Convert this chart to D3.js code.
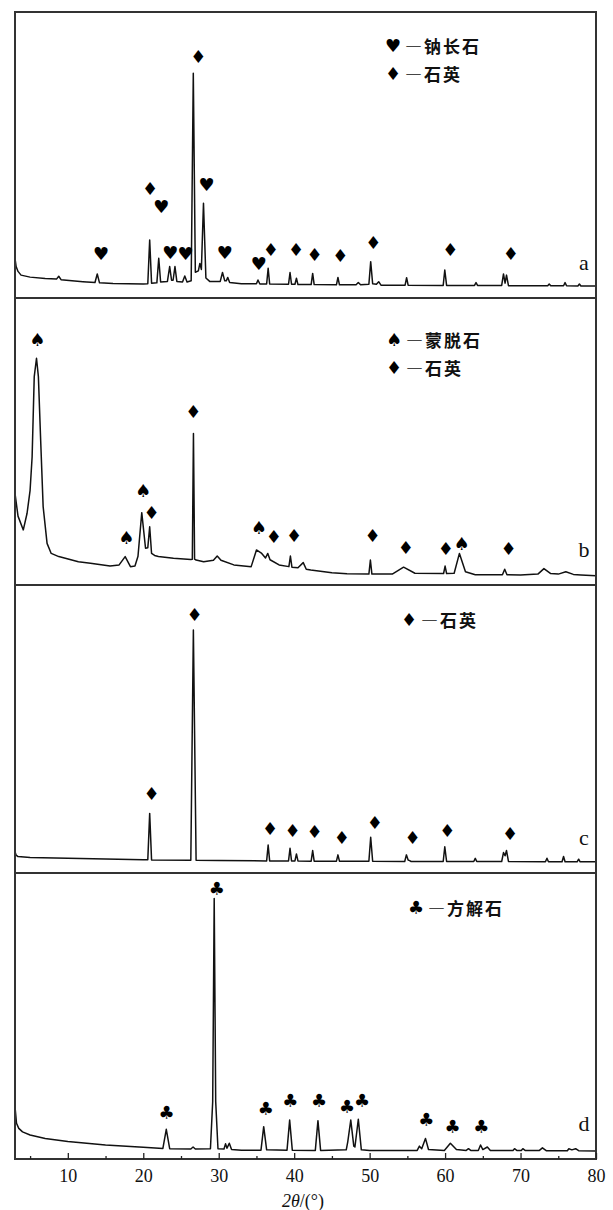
<!DOCTYPE html>
<html lang="zh">
<head>
<meta charset="utf-8">
<title>XRD</title>
<script src="https://d3js.org/d3.v7.min.js"></script>
<style>
  body { margin: 0; background: #fff; }
  .axis text { font-family: "Liberation Serif", serif; font-size: 18px; fill: #111; }
  .axis line { stroke: #222; stroke-width: 1.3; }
  .mark { font-family: "DejaVu Sans", sans-serif; font-size: 18px; fill: #000; }
  .leg { font-family: "Noto Sans CJK SC", sans-serif; font-size: 17px; font-weight: 700; fill: #111; letter-spacing: 2px; }
  .tag { font-family: "Liberation Serif", serif; font-size: 22px; fill: #111; }
</style>
</head>
<body>
<script>
// 2theta range and ticks
var xDomain = [3, 80];
var majorTicks = [10, 20, 30, 40, 50, 60, 70, 80];
var minorTicks = [5, 15, 25, 35, 45, 55, 65, 75];

// traces: [2theta, relative intensity 0-100 of panel height]
var traceA = [[3.0,13.9],[3.15,11],[3.4,9.3],[3.8,8.0],[5,7.3],[7,6.8],[8.5,6.6],[8.8,7.6],[9.1,6.4],[12,5.7],[13.6,5.4],[13.9,8.4],[14.2,5.3],[16,5.1],[20.0,4.9],[20.6,5.0],[20.85,20.3],[21.1,5.2],[21.8,5.3],[22.05,13.9],[22.3,5.6],[23.2,5.8],[23.5,11.0],[23.75,6.2],[23.95,6.2],[24.2,11.0],[24.45,5.8],[25.2,5.6],[25.5,7.7],[25.8,5.6],[26.35,6],[26.63,78.6],[26.9,9],[27.3,9.5],[27.5,12.1],[27.7,10],[27.98,33.1],[28.3,7],[28.8,5.8],[30.2,5.8],[30.5,8.9],[30.8,6],[31.0,6],[31.2,7.2],[31.45,5.4],[33,5],[35.0,5],[35.2,6.3],[35.45,4.9],[36.35,4.9],[36.55,10.4],[36.75,4.9],[39.25,4.8],[39.45,8.9],[39.65,4.8],[40.1,4.8],[40.3,6.9],[40.5,4.7],[42.25,4.7],[42.45,8.6],[42.65,4.7],[45.6,4.6],[45.8,7.2],[46.0,4.6],[48.2,4.6],[48.5,5.4],[48.8,4.6],[49.9,4.8],[50.14,12.7],[50.4,5],[50.9,4.8],[51.2,5.7],[51.5,4.5],[54.7,4.5],[54.9,7.1],[55.1,4.5],[59.75,4.4],[59.96,9.8],[60.2,4.4],[63.9,4.4],[64.1,5.4],[64.3,4.4],[67.5,4.4],[67.74,8.4],[67.95,5.2],[68.14,8.0],[68.4,4.3],[73.6,4.3],[73.8,4.9],[74,4.3],[75.7,4.3],[75.9,5.4],[76.1,4.3],[77.6,4.2],[77.8,4.9],[78.0,4.2],[80,4.2]];

var traceB = [[3.0,31.9],[3.4,24],[4.1,19.2],[4.6,25],[5.0,33],[5.27,44.7],[5.55,72.6],[5.85,79.0],[6.1,72.6],[6.4,50.5],[6.73,27.3],[7.25,14.5],[7.8,11.0],[8.8,9.9],[11.4,8.1],[13,7.6],[15.6,6.6],[16.8,7.0],[17.6,9.9],[18.3,6.4],[18.9,6.6],[19.3,10],[19.8,25.2],[20.3,12.8],[20.6,13],[20.85,20.3],[21.1,11],[21.5,10.3],[22,9.9],[24,9.3],[26.3,8.9],[26.5,9],[26.65,52.8],[26.8,9],[27.0,8.7],[28,8.1],[29.3,8.6],[29.8,10.1],[30.3,8.6],[32,7.0],[34.3,6.4],[35.0,12.2],[35.7,11.0],[36.2,9.4],[36.5,11.0],[36.8,8.8],[38,7],[39.3,6.4],[39.5,10.1],[39.7,6.2],[40.5,6.0],[41.2,7.8],[41.6,5.5],[42.2,5.2],[45,4.3],[47,3.9],[49.9,3.8],[50.1,8.7],[50.3,3.8],[53,3.8],[54.5,6.2],[56,4.1],[59.8,4.0],[60.0,6.6],[60.2,4.0],[61.2,4.1],[61.9,11.0],[62.7,4.6],[64,3.6],[67.6,3.6],[67.9,5.5],[68.2,3.6],[70,3.5],[72.3,3.8],[73.1,5.7],[74,4],[75,3.8],[76,4.6],[77,3.7],[78,3.5],[80,3.2]];

var traceC = [[3.0,7.4],[3.15,6.2],[3.4,5.7],[5,5.4],[10,5.1],[20,4.6],[20.6,4.6],[20.85,20.7],[21.1,4.5],[26.3,4.4],[26.64,84.4],[27.0,4.4],[30,4.3],[36.35,4.2],[36.55,9.7],[36.75,4.2],[39.25,4.2],[39.45,8.6],[39.65,4.2],[40.1,4.2],[40.3,6.6],[40.5,4.2],[42.25,4.1],[42.45,7.8],[42.65,4.1],[45.6,4.1],[45.8,6.3],[46.0,4.1],[49.9,4.1],[50.14,12.4],[50.4,4.1],[54.65,4.0],[54.87,6.3],[55.1,4.5],[55.3,4.3],[55.5,4.0],[59.75,4.0],[59.96,9.1],[60.2,4.0],[63.8,4.0],[64.0,5.1],[64.2,4.0],[67.5,4.0],[67.74,7.1],[67.95,6.0],[68.14,7.8],[68.4,4.0],[73.3,3.9],[73.5,5.1],[73.7,3.9],[75.5,3.9],[75.7,5.7],[75.9,3.9],[77.5,3.9],[77.7,4.8],[77.9,3.9],[80,3.9]];

var traceD = [[3.0,18.3],[3.2,12.5],[3.5,10.7],[4,9.5],[5,8.4],[7,7.2],[10,6.1],[15,4.9],[20,4.1],[22.6,3.7],[23.05,10.4],[23.5,3.6],[26.3,3.5],[26.6,4.2],[26.9,3.5],[28.9,3.6],[29.2,20],[29.4,91.1],[29.6,20],[29.9,3.6],[30.7,3.5],[30.9,5.3],[31.1,3.8],[31.4,5.5],[31.7,3.3],[33,3.1],[35.6,3.1],[35.96,11.3],[36.35,3.2],[39.05,3.1],[39.4,13.6],[39.75,3.1],[42.8,3.0],[43.15,13.4],[43.5,3.0],[46.9,3.2],[47.1,6],[47.5,13.6],[47.9,4.5],[48.05,4.2],[48.5,13.9],[48.9,3.2],[50,3.0],[56.3,3.0],[56.6,4.5],[56.9,3.6],[57.4,7.2],[57.8,3.3],[59.9,3.0],[60.7,5.5],[61.5,3.3],[62.8,3.0],[63.1,3.6],[63.4,3.0],[64.4,3.0],[64.7,4.9],[65.0,3.3],[65.6,4.2],[66.0,3.0],[69,3.0],[69.2,3.6],[69.5,3.0],[70.1,3.0],[70.3,3.6],[70.6,3.0],[72.5,3.0],[72.9,3.9],[73.4,2.9],[76.2,2.9],[76.4,3.6],[76.8,3.2],[77.3,3.6],[77.7,2.9],[80,2.8]];

// phase markers: [2theta, level, symbol]
var markersA = [[14.4,15.5,"♥"],[20.9,38.2,"♦"],[22.4,32,"♥"],[23.6,15.8,"♥"],[25.6,15.5,"♥"],[27.3,84.4,"♦"],[28.4,39.6,"♥"],[30.8,16,"♥"],[35.3,12,"♥"],[36.9,17,"♦"],[40.25,17,"♦"],[42.7,15.3,"♦"],[46.1,15,"♦"],[50.5,19.4,"♦"],[60.7,17,"♦"],[68.7,15.5,"♦"]];
var markersB = [[5.95,85.4,"♠"],[17.75,16.6,"♠"],[19.98,32.8,"♠"],[21.1,25.2,"♦"],[26.63,60.4,"♦"],[35.3,20.1,"♠"],[37.3,16.8,"♦"],[40.0,17.1,"♦"],[50.4,17.1,"♦"],[54.8,13.1,"♦"],[60.1,12.8,"♦"],[62.2,14.5,"♠"],[68.4,12.8,"♦"]];
var markersC = [[21.1,27.7,"♦"],[26.8,89.8,"♦"],[36.8,15.5,"♦"],[39.8,14.9,"♦"],[42.7,14.4,"♦"],[46.3,12.4,"♦"],[50.7,17.6,"♦"],[55.7,12.4,"♦"],[60.3,14.9,"♦"],[68.6,13.8,"♦"]];
var markersD = [[23.1,16.2,"♣"],[29.75,94.6,"♣"],[36.25,17.7,"♣"],[39.5,20.4,"♣"],[43.3,20.4,"♣"],[47.0,18.3,"♣"],[49.0,20.4,"♣"],[57.5,13.9,"♣"],[61.0,11.5,"♣"],[64.8,11.5,"♣"]];

// legends
var legendA = [["♥", "—钠长石"], ["♦", "—石英"]];
var legendB = [["♠", "—蒙脱石"], ["♦", "—石英"]];
var legendC = [["♦", "—石英"]];
var legendD = [["♣", "—方解石"]];
var panelTags = ["a", "b", "c", "d"];

//Layout
var w = 613, h = 1210;
var left = 15, right = 596;
var panelTops = [12, 298, 585, 873];
var panelBottom = 1159;

var panels = [
  { trace: traceA, marks: markersA, legend: legendA, lx: 393, ly: 33 },
  { trace: traceB, marks: markersB, legend: legendB, lx: 394, ly: 41 },
  { trace: traceC, marks: markersC, legend: legendC, lx: 409, ly: 34 },
  { trace: traceD, marks: markersD, legend: legendD, lx: 416, ly: 34 }
];

var svg = d3.select("body").append("svg")
  .attr("width", w)
  .attr("height", h);

var x = d3.scaleLinear().domain(xDomain).range([left, right]);

panels.forEach(function (p, i) {
  var top = panelTops[i];
  var bottom = i < 3 ? panelTops[i + 1] : panelBottom;
  var y = d3.scaleLinear().domain([0, 100]).range([bottom, top]);

  var g = svg.append("g");

  var line = d3.line()
    .x(function (d) { return x(d[0]); })
    .y(function (d) { return y(d[1]); });

  g.append("path")
    .datum(p.trace)
    .attr("d", line)
    .attr("fill", "none")
    .attr("stroke", "#111")
    .attr("stroke-width", 1.5)
    .attr("stroke-linejoin", "round");

  g.selectAll("text.mark")
    .data(p.marks)
    .enter()
    .append("text")
    .attr("class", "mark")
    .attr("x", function (d) { return x(d[0]); })
    .attr("y", function (d) { return y(d[1]); })
    .attr("text-anchor", "middle")
    .attr("dominant-baseline", "central")
    .text(function (d) { return d[2]; });

  // legend
  p.legend.forEach(function (l, j) {
    var ly = top + p.ly + j * 28;
    g.append("text").attr("class", "mark")
      .attr("x", p.lx).attr("y", ly)
      .attr("text-anchor", "middle").attr("dominant-baseline", "central")
      .text(l[0]);
    g.append("text").attr("class", "leg")
      .attr("x", p.lx + 12).attr("y", ly)
      .attr("dominant-baseline", "central")
      .text(l[1]);
  });

  g.append("text").attr("class", "tag")
    .attr("x", 584).attr("y", bottom - 36)
    .attr("text-anchor", "middle").attr("dominant-baseline", "central")
    .text(panelTags[i]);

  g.append("rect")
    .attr("x", left).attr("y", top)
    .attr("width", right - left).attr("height", bottom - top)
    .attr("fill", "none").attr("stroke", "#333").attr("stroke-width", 2);
});

//Bottom axis
var xAxis = d3.axisBottom(x)
  .tickValues(majorTicks)
  .tickSize(-6)
  .tickPadding(10)
  .tickFormat(d3.format("d"));

var axG = svg.append("g")
  .attr("class", "axis")
  .attr("transform", "translate(0," + panelBottom + ")")
  .call(xAxis);
axG.select(".domain").remove();

var minorAxis = d3.axisBottom(x)
  .tickValues(minorTicks)
  .tickSize(-3)
  .tickFormat("");
var mG = svg.append("g")
  .attr("class", "axis")
  .attr("transform", "translate(0," + panelBottom + ")")
  .call(minorAxis);
mG.select(".domain").remove();

//Axis title
var title = svg.append("text")
  .attr("x", 303).attr("y", 1207)
  .attr("text-anchor", "middle")
  .style("font-family", "Liberation Serif, serif")
  .style("font-size", "18px")
  .attr("fill", "#111");
title.append("tspan").style("font-style", "italic").text("2θ");
title.append("tspan").text("/(°)");
</script>
</body>
</html>
